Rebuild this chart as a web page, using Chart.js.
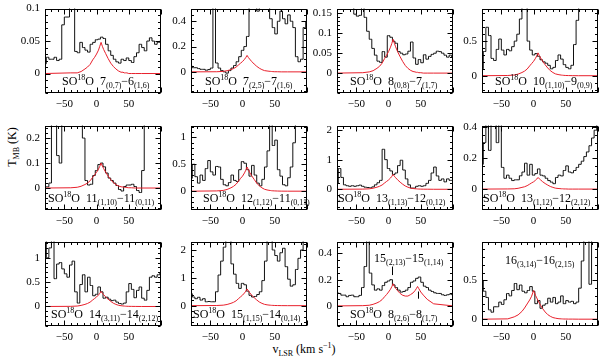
<!DOCTYPE html>
<html>
<head>
<meta charset="utf-8">
<script src="https://cdn.jsdelivr.net/npm/chart.js@4"></script>
<style>
  html, body { margin: 0; padding: 0; background: #fff; }
  #wrap { position: relative; width: 600px; height: 357px; overflow: hidden; font-family: "Liberation Serif", serif; }
  #wrap canvas { position: absolute; }
  .axis-title { position: absolute; font-size: 12px; color: #000; white-space: nowrap; line-height: 14px; }
  .axis-title sub { font-size: 8px; vertical-align: -3px; line-height: 0; }
  .axis-title sup { font-size: 8px; vertical-align: 5px; line-height: 0; }
  #ytitle { left: 12px; top: 147px; transform: translate(-50%, -50%) rotate(-90deg); }
  #xtitle { left: 304px; top: 349px; transform: translate(-50%, -50%); }
</style>
</head>
<body>
<div id="wrap">
  <div id="ytitle" class="axis-title">T<sub>MB</sub> (K)</div>
  <div id="xtitle" class="axis-title">v<sub>LSR</sub> (km s<sup>−1</sup>)</div>
</div>
<script>
// channel velocities (km/s) of the observed spectra
const channelVel = [-80, -76, -72, -68, -64, -60, -56, -52, -48, -44, -40, -36, -32, -28, -24, -20, -16, -12, -8, -4,
  0, 4, 8, 12, 16, 20, 24, 28, 32, 36, 40, 44, 48, 52, 56, 60, 64, 68, 72, 76, 80, 84, 88, 92, 96, 100];

// observed T_MB (K), one array per transition
const obs1 = [0.015, 0.025, 0.022, 0.022, 0.025, 0.02, 0.022, 0.075, 0.087, 0.087, 0.12, 0.12, 0.034, 0.032, 0.048, 0.04, 0.036, 0.033, 0.045, 0.048,
  0.052, 0.053, 0.056, 0.054, 0.045, 0.035, 0.028, 0.022, 0.018, 0.016, 0.022, 0.02, 0.024, 0.02, 0.017, 0.026, 0.032, 0.045, 0.04, 0.035, 0.05, 0.055, 0.05, 0.045, 0.048, 0.05];
const obs2 = [0.046, 0.033, 0.033, 0.026, 0.02, 0.02, 0.013, 0.018, 0.03, 0.55, 0.07, 0.03, 0.01, 0.0, -0.01, 0.01, 0.03, 0.05, 0.08, 0.12,
  0.17, 0.2, 0.28, 0.6, 0.6, 0.6, 0.48, 0.52, 0.6, 0.6, 0.55, 0.42, 0.35, 0.3, 0.4, 0.48, 0.42, 0.38, 0.45, 0.4, 0.35, 0.12, 0.08, 0.1, 0.35, 0.4];
const obs3 = [0.2, 0.2, 0.2, 0.2, 0.2, 0.2, 0.2, 0.148, 0.143, 0.145, 0.17, 0.14, 0.105, 0.085, 0.062, 0.045, 0.03, 0.027, 0.054, 0.04,
  0.094, 0.09, 0.08, 0.075, 0.054, 0.05, 0.046, 0.048, 0.055, 0.078, 0.038, 0.022, 0.034, 0.026, 0.046, 0.035, 0.042, 0.047, 0.05, 0.055, 0.054, 0.05, 0.045, 0.04, 0.045, 0.04];
const obs4 = [0.1, 0.35, 0.7, 0.58, 0.25, 0.22, 0.38, 0.53, 0.37, 0.3, 0.38, 0.36, 0.42, 0.5, 0.6, 0.82, 1.1, 1.2, 0.5, 0.37,
  0.3, 0.32, 0.28, 0.23, 0.2, 0.18, 0.15, 0.1, 0.12, 0.22, 0.3, 0.24, 0.16, 0.12, 0.1, 0.15, 0.45, 0.8, 1.2, 1.2, 1.2, 1.2, 1.2, 1.2, 1.2, 1.2];
const obs5 = [0.005, 0.005, 0.02, 0.3, 0.3, 0.13, 0.1, 0.3, 0.3, 0.3, 0.3, 0.3, 0.3, 0.3, 0.3, 0.2, 0.03, 0.012, 0.015, 0.05,
  0.07, 0.094, 0.1, 0.085, 0.06, 0.04, 0.03, 0.02, 0.01, -0.006, -0.012, 0.006, 0.012, 0.012, 0.015, 0.006, -0.01, -0.018, 0.07, 0.3, 0.3, 0.3, 0.3, 0.3, 0.3, 0.3];
const obs6 = [0.24, 0.5, 0.27, 0.15, 0.3, 0.2, 0.42, 0.57, 0.36, 0.3, 0.46, 0.45, 0.22, 0.12, 0.1, 0.16, 0.3, 0.2, 0.18, 0.4,
  0.55, 0.52, 0.4, 0.28, 0.48, 0.3, 0.15, 0.1, 0.22, 0.45, 0.75, 1.3, 0.85, 0.95, 0.4, 0.28, 0.12, 0.1, 0.25, 0.45, 0.9, 1.3, 1.3, 1.3, 1.3, 1.3];
const obs7 = [0.2, 0.7, 0.4, 0.15, 0.12, 0.1, 0.12, 0.1, 0.12, 0.14, 0.1, 0.07, 0.06, 0.05, 0.08, 0.15, 0.22, 0.3, 1.35, 1.0,
  0.7, 0.62, 0.5, 0.55, 0.8, 0.98, 0.65, 0.35, 0.15, 0.04, 0.04, 0.1, 0.12, 0.1, 0.12, 0.2, 0.3, 0.55, 0.75, 0.45, 0.3, 0.35, 0.25, 0.35, 0.3, 0.3];
const obs8 = [0.16, 0.3, 0.5, 0.25, 0.5, 0.5, 0.3, 0.5, 0.14, 0.07, 0.09, 0.07, 0.055, 0.06, 0.06, 0.086, 0.11, 0.167, 0.09, 0.16,
  0.09, 0.1, 0.13, 0.09, 0.085, 0.07, 0.055, 0.045, 0.035, 0.075, 0.09, 0.085, 0.12, 0.15, 0.11, 0.105, 0.12, 0.14, 0.16, 0.18, 0.21, 0.24, 0.28, 0.33, 0.38, 0.42];
const obs9 = [1.4, 1.0, 1.2, 1.4, 0.57, 0.87, 0.9, 0.77, 0.67, 0.6, 0.85, 0.93, 0.3, 0.07, 0.45, 0.65, 0.3, 0.6, 0.43, 0.22,
  0.25, 0.4, 0.3, 0.17, 0.19, 0.15, 0.12, 0.13, 0.09, 0.06, 0.05, 0.07, 0.3, 0.47, 0.35, 0.18, 0.33, 0.4, 0.17, 0.13, 0.33, 0.6, 0.63, 0.6, 0.65, 0.68];
const obs10 = [0.43, 0.31, 0.25, 0.3, 0.2, 0.25, 0.14, 0.15, 0.14, 0.14, 0.5, 1.1, 1.6, 2.1, 2.5, 2.5, 1.5, 1.13, 0.8, 0.62,
  0.8, 0.75, 0.52, 0.37, 0.31, 0.33, 0.4, 0.5, 0.9, 1.6, 2.5, 2.5, 2.0, 1.8, 1.6, 1.9, 2.06, 1.4, 0.95, 0.7, 0.75, 1.3, 1.7, 2.0, 2.5, 2.5];
const obs11 = [0.1, 0.095, 0.082, 0.082, 0.07, 0.08, 0.082, 0.07, 0.07, 0.08, 0.14, 0.3, 0.55, 0.25, 0.16, 0.12, 0.13, 0.12, 0.155, 0.18,
  0.19, 0.2, 0.16, 0.14, 0.12, 0.105, 0.11, 0.12, 0.14, 0.18, 0.19, 0.21, 0.22, 0.18, 0.15, 0.14, 0.12, 0.11, 0.1, 0.095, 0.095, 0.085, 0.08, 0.085, 0.09, 0.085];
const obs12 = [0.5, 0.36, 0.28, 0.12, 0.09, 0.16, 0.16, 0.22, 0.19, 0.25, 0.33, 0.3, 0.37, 0.46, 0.38, 0.44, 0.36, 0.34, 0.37, 0.42,
  0.36, 0.2, 0.24, 0.14, 0.18, 0.2, 0.27, 0.22, 0.28, 0.2, 0.22, 0.3, 0.2, 0.24, 0.22, 0.23, 0.2, 0.22, 0.4, 0.75, 1.1, 1.1, 0.45, 1.1, 1.1, 1.1];

// velocities where the model (red) curve was read
const fitVel = [-80, -40, -30, -24, -18, -14, -10, -6, -3, 0, 3, 5, 7, 9, 11, 14, 18, 22, 26, 30, 34, 38, 41, 43, 45, 47, 50, 54, 60, 70, 100];

const fit1 = [0, 0.001, 0.001, 0.003, 0.007, 0.010, 0.014, 0.021, 0.025, 0.030, 0.036, 0.042, 0.048, 0.042, 0.037, 0.031, 0.023, 0.016, 0.011, 0.007, 0.004, 0.002, 0.002, 0.001, 0.001, 0.001, 0, 0, 0, 0, 0];
const fit2 = [0, 0.001, 0.004, 0.009, 0.018, 0.026, 0.038, 0.056, 0.069, 0.082, 0.099, 0.113, 0.13, 0.114, 0.101, 0.083, 0.062, 0.044, 0.029, 0.018, 0.010, 0.007, 0.005, 0.004, 0.003, 0.002, 0.001, 0.001, 0, 0, 0];
const fit3 = [0, 0.001, 0.003, 0.006, 0.012, 0.017, 0.025, 0.037, 0.045, 0.054, 0.065, 0.074, 0.085, 0.075, 0.066, 0.054, 0.041, 0.029, 0.019, 0.012, 0.007, 0.004, 0.003, 0.002, 0.002, 0.001, 0.001, 0, 0, 0, 0];
const fit4 = [0, 0.003, 0.01, 0.023, 0.046, 0.066, 0.096, 0.142, 0.175, 0.208, 0.251, 0.287, 0.33, 0.29, 0.257, 0.211, 0.158, 0.112, 0.073, 0.046, 0.026, 0.017, 0.012, 0.009, 0.007, 0.005, 0.003, 0.002, 0.001, 0, 0];
const fit5 = [0, 0.001, 0.003, 0.007, 0.014, 0.02, 0.029, 0.043, 0.053, 0.063, 0.076, 0.087, 0.1, 0.088, 0.078, 0.064, 0.048, 0.034, 0.022, 0.014, 0.008, 0.005, 0.004, 0.003, 0.002, 0.002, 0.001, 0.001, 0, 0, 0];
const fit6 = [0, 0.005, 0.014, 0.032, 0.063, 0.09, 0.13, 0.19, 0.24, 0.28, 0.34, 0.39, 0.45, 0.40, 0.35, 0.29, 0.22, 0.15, 0.10, 0.063, 0.036, 0.023, 0.016, 0.013, 0.009, 0.007, 0.005, 0.003, 0.001, 0, 0];
const fit7 = [0, 0.005, 0.015, 0.035, 0.07, 0.1, 0.145, 0.215, 0.265, 0.315, 0.38, 0.435, 0.5, 0.44, 0.39, 0.32, 0.24, 0.17, 0.11, 0.07, 0.04, 0.025, 0.018, 0.014, 0.01, 0.008, 0.005, 0.003, 0.002, 0, 0];
const fit8 = [0, 0.001, 0.002, 0.005, 0.011, 0.015, 0.022, 0.032, 0.04, 0.047, 0.057, 0.065, 0.075, 0.066, 0.059, 0.048, 0.036, 0.026, 0.017, 0.011, 0.006, 0.004, 0.003, 0.002, 0.002, 0.001, 0.001, 0, 0, 0, 0];
const fit9 = [0, 0.003, 0.009, 0.022, 0.043, 0.062, 0.09, 0.133, 0.164, 0.195, 0.236, 0.27, 0.31, 0.273, 0.242, 0.198, 0.149, 0.105, 0.068, 0.043, 0.025, 0.016, 0.011, 0.009, 0.006, 0.005, 0.003, 0.002, 0.001, 0, 0];
const fit10 = [0, 0.006, 0.018, 0.042, 0.084, 0.12, 0.174, 0.258, 0.318, 0.378, 0.456, 0.522, 0.6, 0.528, 0.468, 0.384, 0.288, 0.204, 0.132, 0.084, 0.048, 0.03, 0.021, 0.017, 0.012, 0.01, 0.006, 0.004, 0.002, 0, 0];
const fit11 = [0, 0.002, 0.005, 0.012, 0.023, 0.033, 0.048, 0.071, 0.087, 0.106, 0.127, 0.146, 0.169, 0.149, 0.134, 0.116, 0.095, 0.081, 0.075, 0.075, 0.086, 0.099, 0.116, 0.131, 0.148, 0.131, 0.106, 0.082, 0.05, 0.016, 0];
const fit12 = [0, 0.004, 0.03, 0.055, 0.1, 0.144, 0.196, 0.248, 0.296, 0.37, 0.307, 0.274, 0.237, 0.207, 0.178, 0.137, 0.093, 0.059, 0.037, 0.021, 0.013, 0.007, 0.005, 0.004, 0.003, 0.002, 0.002, 0.001, 0.001, 0, 0];

// transition labels (^{} superscript, _{} subscript)
const transitionLabels = [
  'SO^{18}O  7_{(0,7)}−6_{(1,6)}',
  'SO^{18}O  7_{(2,5)}−7_{(1,6)}',
  'SO^{18}O  8_{(0,8)}−7_{(1,7)}',
  'SO^{18}O  10_{(1,10)}−9_{(0,9)}',
  'SO^{18}O  11_{(1,10)}−11_{(0,11)}',
  'SO^{18}O  12_{(1,12)}−11_{(0,11)}',
  'SO^{18}O  13_{(1,13)}−12_{(0,12)}',
  'SO^{18}O  13_{(1,12)}−12_{(2,12)}',
  'SO^{18}O  14_{(3,11)}−14_{(2,12)}',
  'SO^{18}O  15_{(1,15)}−14_{(0,14)}',
  'SO^{18}O  8_{(2,6)}−8_{(1,7)}',
  '15_{(2,13)}−15_{(1,14)}',
  '16_{(3,14)}−16_{(2,15)}'
];

const xTickVals = [-50, 0, 50];

// layout
const colLeft = [45, 191, 337, 482];
const rowTop = [5, 122, 238];
const PLOT_W = 116, PLOT_H = 88;
const AX_W = 45, PAD_T = 8, PAD_R = 3, AX_H = 22;
const RED = 'rgb(232, 32, 44)';

const panels = [
  { obs: obs1, fit: fit1, yMin: -0.03, yMax: 0.1, yTicks: [0, 0.05, 0.1], yMinor: 0.01, labels: [{ t: 0, dx: 17, by: 8 }] },
  { obs: obs2, fit: fit2, yMin: -0.167, yMax: 0.5, yTicks: [0, 0.2, 0.4], yMinor: 0.05, labels: [{ t: 1, dx: 14, by: 8 }] },
  { obs: obs3, fit: fit3, yMin: -0.05, yMax: 0.162, yTicks: [0, 0.05, 0.1, 0.15], yMinor: 0.01, labels: [{ t: 2, dx: 13, by: 8 }] },
  { obs: obs4, fit: fit4, yMin: -0.25, yMax: 0.97, yTicks: [0, 0.5], yMinor: 0.1, labels: [{ t: 3, dx: 13, by: 8 }] },
  { obs: obs5, fit: fit5, yMin: -0.088, yMax: 0.25, yTicks: [0, 0.1, 0.2], yMinor: 0.02, labels: [{ t: 4, dx: 3, by: 8 }] },
  { obs: obs6, fit: fit6, yMin: -0.35, yMax: 1.22, yTicks: [0, 0.5, 1], yMinor: 0.1, labels: [{ t: 5, dx: 12, by: 8 }] },
  { obs: obs7, fit: fit7, yMin: -0.7, yMax: 2.15, yTicks: [0, 1, 2], yMinor: 0.2, labels: [{ t: 6, dx: 1, by: 8 }] },
  { obs: obs8, fit: fit8, yMin: -0.135, yMax: 0.41, yTicks: [0, 0.2, 0.4], yMinor: 0.05, labels: [{ t: 7, dx: 1, by: 8 }] },
  { obs: obs9, fit: fit9, yMin: -0.4, yMax: 1.33, yTicks: [0, 0.5, 1], yMinor: 0.1, labels: [{ t: 8, dx: 6, by: 8 }] },
  { obs: obs10, fit: fit10, yMin: -0.73, yMax: 2.3, yTicks: [0, 1, 2], yMinor: 0.2, labels: [{ t: 9, dx: 2, by: 8 }] },
  { obs: obs11, fit: fit11, yMin: -0.153, yMax: 0.49, yTicks: [0, 0.2, 0.4], yMinor: 0.05,
    labels: [{ t: 10, dx: 13, by: 8 }, { t: 11, dx: 37, ty: 20 }],
    markers: [{ v: 5, y0: 0.235, y1: 0.3 }, { v: 45, y0: 0.055, y1: 0.11 }] },
  { obs: obs12, fit: fit12, yMin: -0.088, yMax: 1.0, yTicks: [0, 0.5], yMinor: 0.1, labels: [{ t: 12, dx: 23, ty: 22 }] }
];

function drawRich(ctx, str, x, y) {
  const parts = str.match(/[\^_]\{[^}]*\}|[^\^_]+/g);
  for (const p of parts) {
    let text = p, size = 12, dy = 0;
    if (p[0] === '^') { text = p.slice(2, -1); size = 8; dy = -5; }
    else if (p[0] === '_') { text = p.slice(2, -1); size = 8; dy = 3; }
    ctx.font = size + 'px "Liberation Serif"';
    ctx.fillText(text, x, y + dy);
    x += ctx.measureText(text).width;
  }
}

// frame with inward ticks, marker lines and transition labels
const decor = {
  id: 'decor',
  afterDatasetsDraw(chart, args, o) {
    const { ctx, chartArea: a, scales: { x, y } } = chart;
    ctx.save();
    ctx.strokeStyle = '#000';
    ctx.lineWidth = 1;
    const L = Math.round(a.left) + 0.5, R = Math.round(a.right) - 0.5;
    const T = Math.round(a.top) + 0.5, B = Math.round(a.bottom) - 0.5;
    ctx.strokeRect(L, T, R - L, B - T);
    ctx.beginPath();
    for (let v = -80; v <= 100; v += 10) {
      const px = Math.round(x.getPixelForValue(v)) + 0.5;
      const len = v % 50 === 0 ? 5 : 2.5;
      ctx.moveTo(px, B); ctx.lineTo(px, B - len);
      ctx.moveTo(px, T); ctx.lineTo(px, T + len);
    }
    const k0 = Math.ceil(o.yMin / o.yMinor - 1e-6);
    for (let k = k0; k * o.yMinor <= o.yMax + 1e-9; k++) {
      const v = k * o.yMinor;
      const major = o.yTicks.some(t => Math.abs(t - v) < 1e-9);
      const len = major ? 5 : 2.5;
      const py = Math.round(y.getPixelForValue(v)) + 0.5;
      ctx.moveTo(L, py); ctx.lineTo(L + len, py);
      ctx.moveTo(R, py); ctx.lineTo(R - len, py);
    }
    (o.markers || []).forEach(m => {
      const px = Math.round(x.getPixelForValue(m.v)) + 0.5;
      ctx.moveTo(px, y.getPixelForValue(m.y0));
      ctx.lineTo(px, y.getPixelForValue(m.y1));
    });
    ctx.stroke();
    ctx.fillStyle = '#000';
    ctx.textBaseline = 'alphabetic';
    o.labels.forEach(l => {
      const by = l.ty !== undefined ? a.top + l.ty : a.bottom - l.by;
      drawRich(ctx, transitionLabels[l.t], a.left + l.dx, by);
    });
    ctx.restore();
  }
};

Chart.defaults.font.family = '"Liberation Serif", serif';
Chart.defaults.font.size = 10;
Chart.defaults.color = '#000';

const wrap = document.getElementById('wrap');
const fmt = v => (v < 0 ? '−' + Math.abs(v) : String(v));

panels.forEach((p, i) => {
  const col = i % 4, row = Math.floor(i / 4);
  const cv = document.createElement('canvas');
  const w = AX_W + PLOT_W + PAD_R, h = PAD_T + PLOT_H + AX_H;
  cv.width = w; cv.height = h;
  cv.style.width = w + 'px'; cv.style.height = h + 'px';
  cv.style.left = (colLeft[col] - AX_W) + 'px';
  cv.style.top = (rowTop[row] - PAD_T) + 'px';
  wrap.appendChild(cv);

  new Chart(cv, {
    type: 'line',
    data: {
      datasets: [
        {
          data: fitVel.map((v, j) => ({ x: v, y: p.fit[j] })),
          borderColor: RED, borderWidth: 1, pointRadius: 0,
          tension: 0, order: 0
        },
        {
          data: channelVel.map((v, j) => ({ x: v, y: p.obs[j] })),
          borderColor: '#111', borderWidth: 1, pointRadius: 0,
          stepped: 'middle', order: 1
        }
      ]
    },
    options: {
      responsive: false,
      animation: false,
      events: [],
      layout: { padding: { top: PAD_T, right: PAD_R, left: 0, bottom: 0 } },
      plugins: {
        legend: { display: false },
        tooltip: { enabled: false },
        decor: { yMin: p.yMin, yMax: p.yMax, yTicks: p.yTicks, yMinor: p.yMinor, labels: p.labels, markers: p.markers }
      },
      scales: {
        x: {
          type: 'linear', min: -80, max: 100,
          grid: { display: false, drawTicks: false },
          border: { display: false },
          ticks: { padding: 5, maxRotation: 0, callback: fmt, font: { size: 11 } },
          afterBuildTicks: s => { s.ticks = xTickVals.map(v => ({ value: v })); },
          afterFit: s => { s.height = AX_H; }
        },
        y: {
          type: 'linear', min: p.yMin, max: p.yMax,
          grid: { display: false, drawTicks: false },
          border: { display: false },
          ticks: { padding: 5, callback: fmt, font: { size: 11 } },
          afterBuildTicks: s => { s.ticks = p.yTicks.map(v => ({ value: v })); },
          afterFit: s => { s.width = AX_W; }
        }
      }
    },
    plugins: [decor]
  });
});
</script>
</body>
</html>
